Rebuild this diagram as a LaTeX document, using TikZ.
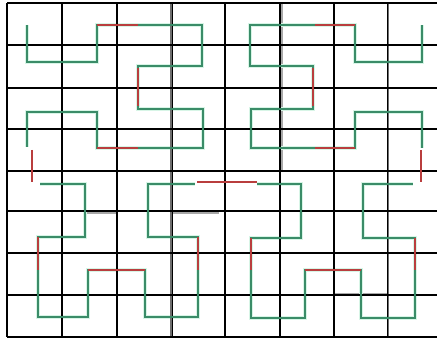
\documentclass[tikz,border=0pt]{standalone}
\usetikzlibrary{calc}
\definecolor{curvegreen}{RGB}{58,140,104}
\definecolor{halogreen}{RGB}{215,245,230}
\definecolor{curvered}{RGB}{185,62,62}
\definecolor{gridgray}{RGB}{110,110,110}
\begin{document}
\begin{tikzpicture}[x=1pt,y=-1pt,
  gridline/.style={black,line width=1.8pt},
  thickgray/.style={gridgray,line width=2.6pt},
  softgray/.style={gridgray!60,line width=2pt},
  halo/.style={halogreen,line width=4.5pt,line join=miter},
  curve/.style={curvegreen,line width=1.9pt,line join=miter},
  bridge/.style={curvered,line width=1.9pt}]
\useasboundingbox (0,0) rectangle (437,342);
\fill[white] (0,0) rectangle (437,342);

% soft gray helper lines
\draw[softgray] (282,3) -- (282,170);
\draw[softgray] (87,213) -- (117,213);
\draw[softgray] (172,213) -- (219,213);
\draw[softgray] (260,45) -- (282,45);
\draw[softgray] (370,45) -- (437,45);
\draw[softgray] (333,294) -- (387,294);

% curve halos
\draw[halo] (27,25) -- (27,62) -- (97,62) -- (97,25) -- (202,25) -- (202,66) -- (138,66) -- (138,109) -- (203,109) -- (203,148) -- (97,148) -- (97,112) -- (27,112) -- (27,147);
\draw[halo] (40,184) -- (85,184) -- (85,237) -- (38,237) -- (38,317) -- (88,317) -- (88,270) -- (145,270) -- (145,317) -- (198,317) -- (198,237) -- (148,237) -- (148,184) -- (195,184);
\draw[halo] (257,184) -- (301,184) -- (301,238) -- (251,238) -- (251,318) -- (305,318) -- (305,270) -- (361,270) -- (361,318) -- (415,318) -- (415,238) -- (363,238) -- (363,184) -- (413,184);
\draw[halo] (422,148) -- (422,112) -- (355,112) -- (355,148) -- (251,148) -- (251,109) -- (313,109) -- (313,66) -- (250,66) -- (250,25) -- (355,25) -- (355,62) -- (422,62) -- (422,25);

% grid
\foreach \x in {171,388} \draw[thickgray] (\x,3) -- (\x,337);
\foreach \x in {7,62,117,225,280,334} \draw[gridline] (\x,3) -- (\x,337);
\foreach \y in {3,45,88,129,171,211,253,295,337} \draw[gridline] (7,\y) -- (437,\y);
\foreach \x in {172,387} \draw[black,line width=0.9pt] (\x,3) -- (\x,337);

% top-left block
\draw[curve] (27,25) -- (27,62) -- (97,62) -- (97,25) -- (202,25) -- (202,66) -- (138,66) -- (138,109) -- (203,109) -- (203,148) -- (97,148) -- (97,112) -- (27,112) -- (27,147);
\draw[bridge] (97,25) -- (138,25);
\draw[bridge] (138,68) -- (138,106);
\draw[bridge] (138,148) -- (97,148);
\draw[bridge] (32,150) -- (32,182);

% bottom-left block
\draw[curve] (40,184) -- (85,184) -- (85,237) -- (38,237) -- (38,317) -- (88,317) -- (88,270) -- (145,270) -- (145,317) -- (198,317) -- (198,237) -- (148,237) -- (148,184) -- (195,184);
\draw[bridge] (38,237) -- (38,270);
\draw[bridge] (88,270) -- (145,270);
\draw[bridge] (198,270) -- (198,237);
\draw[bridge] (197,182) -- (257,182);

% bottom-right block
\draw[curve] (257,184) -- (301,184) -- (301,238) -- (251,238) -- (251,318) -- (305,318) -- (305,270) -- (361,270) -- (361,318) -- (415,318) -- (415,238) -- (363,238) -- (363,184) -- (413,184);
\draw[bridge] (251,238) -- (251,270);
\draw[bridge] (305,270) -- (361,270);
\draw[bridge] (415,270) -- (415,238);
\draw[bridge] (421,182) -- (421,150);

% top-right block
\draw[curve] (422,148) -- (422,112) -- (355,112) -- (355,148) -- (251,148) -- (251,109) -- (313,109) -- (313,66) -- (250,66) -- (250,25) -- (355,25) -- (355,62) -- (422,62) -- (422,25);
\draw[bridge] (355,148) -- (315,148);
\draw[bridge] (313,106) -- (313,68);
\draw[bridge] (315,25) -- (355,25);
\end{tikzpicture}
\end{document}
